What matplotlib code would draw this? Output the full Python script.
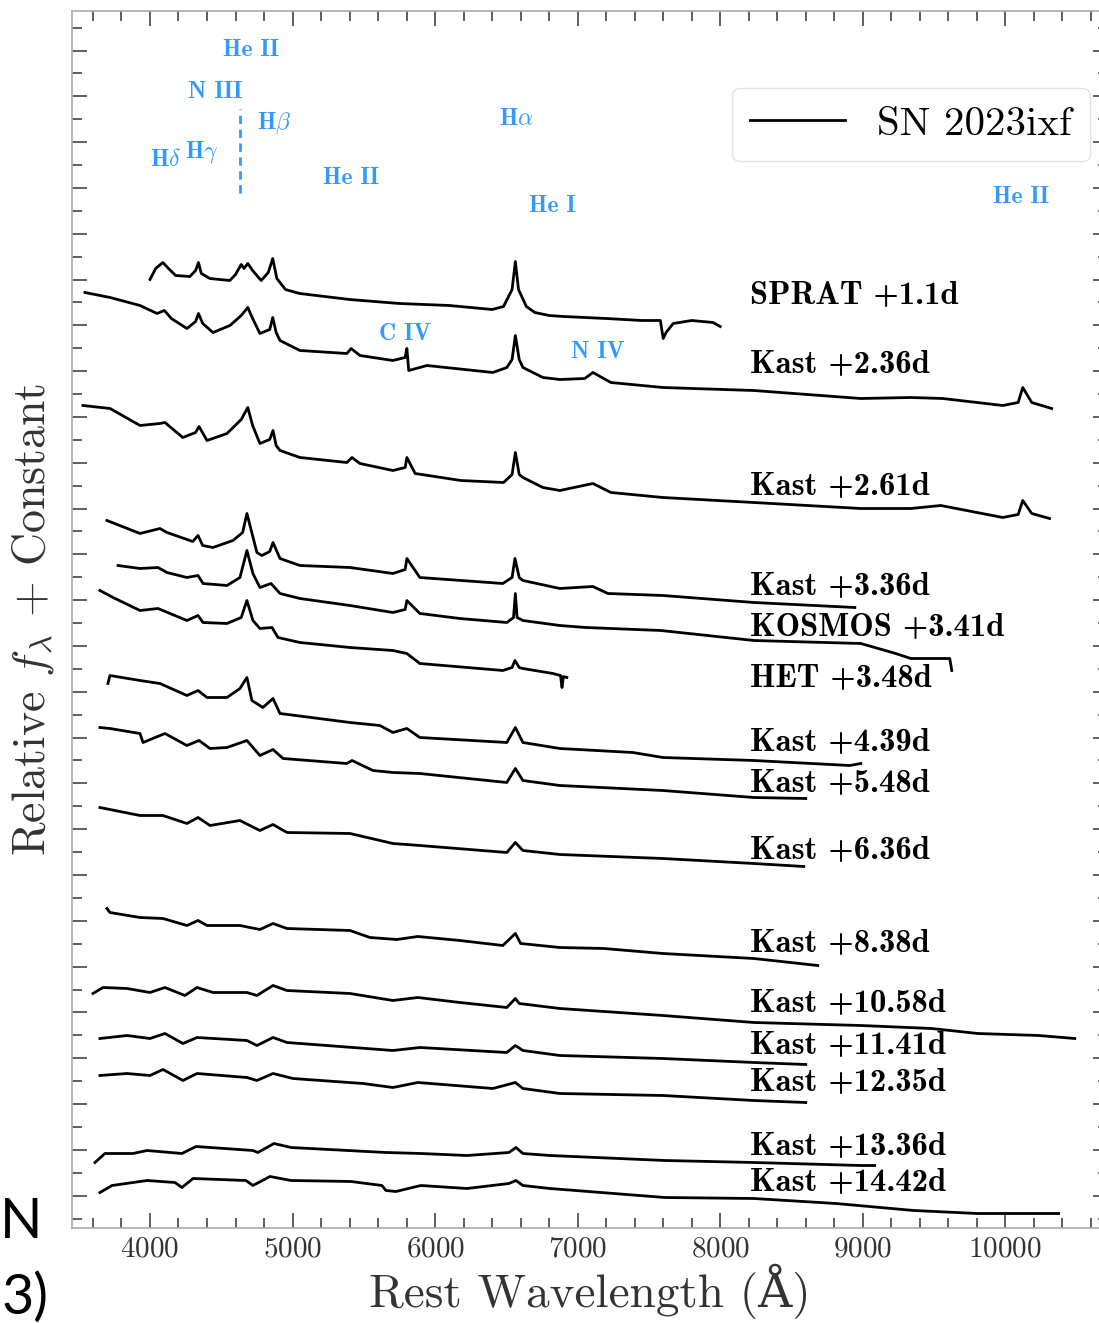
import numpy as np
import matplotlib
matplotlib.use("Agg")
from matplotlib import pyplot as plt

plt.rcParams['font.family'] = 'serif'
plt.rcParams['font.serif'] = ['cmr10']
plt.rcParams['mathtext.fontset'] = 'cm'
plt.rcParams['axes.formatter.use_mathtext'] = True

# spectra: rest wavelength (A) and relative flux + constant
wl_sprat = [4000, 4040, 4090, 4130, 4180, 4280, 4320, 4340, 4360, 4420, 4560, 4600, 4640, 4660, 4686,
            4720, 4780, 4830, 4861, 4890, 4950, 5050, 5400, 5750, 6100, 6400, 6480, 6540, 6563, 6585,
            6640, 6700, 6800, 6900, 7200, 7450, 7580, 7600, 7620, 7670, 7800, 7950, 8000]
fl_sprat = [9.48, 9.59, 9.65, 9.59, 9.52, 9.51, 9.57, 9.65, 9.54, 9.49, 9.47, 9.53, 9.63, 9.59, 9.64,
            9.57, 9.47, 9.55, 9.69, 9.49, 9.38, 9.34, 9.28, 9.24, 9.22, 9.18, 9.21, 9.38, 9.66, 9.38,
            9.21, 9.15, 9.12, 9.11, 9.09, 9.07, 9.07, 8.89, 8.95, 9.04, 9.07, 9.05, 9.01]

wl_k236 = [3544, 3720, 3930, 4050, 4101, 4150, 4259, 4320, 4340, 4370, 4442, 4561, 4640, 4686, 4720,
           4771, 4840, 4861, 4885, 4912, 5052, 5381, 5411, 5473, 5704, 5790, 5802, 5815, 5943, 6405,
           6503, 6540, 6563, 6590, 6616, 6756, 6875, 7050, 7107, 7233, 7598, 8236, 8986, 9337, 9561,
           9982, 10090, 10122, 10185, 10325]
fl_k236 = [9.35, 9.30, 9.22, 9.14, 9.17, 9.09, 8.99, 9.06, 9.14, 9.04, 8.95, 9.02, 9.12, 9.20, 9.09,
           8.94, 8.98, 9.10, 8.95, 8.87, 8.77, 8.74, 8.79, 8.72, 8.67, 8.70, 8.79, 8.57, 8.62, 8.55,
           8.60, 8.68, 8.92, 8.68, 8.60, 8.50, 8.48, 8.49, 8.55, 8.45, 8.40, 8.37, 8.29, 8.30, 8.29,
           8.22, 8.25, 8.40, 8.25, 8.19]

wl_k261 = [3530, 3720, 3930, 4070, 4105, 4230, 4320, 4344, 4400, 4540, 4640, 4686, 4720, 4771, 4840,
           4863, 4885, 4912, 5052, 5381, 5417, 5473, 5704, 5790, 5802, 5860, 6180, 6480, 6540, 6563,
           6590, 6616, 6756, 6875, 7107, 7233, 7598, 8236, 8986, 9337, 9547, 9982, 10090, 10122, 10185,
           10310]
fl_k261 = [8.22, 8.19, 8.02, 8.04, 8.05, 7.90, 7.95, 8.01, 7.87, 7.94, 8.08, 8.20, 8.02, 7.84, 7.88,
           7.97, 7.82, 7.77, 7.70, 7.65, 7.70, 7.64, 7.57, 7.60, 7.70, 7.54, 7.47, 7.45, 7.53, 7.75,
           7.53, 7.50, 7.40, 7.37, 7.44, 7.35, 7.30, 7.25, 7.19, 7.19, 7.22, 7.10, 7.13, 7.27, 7.14,
           7.09]

wl_k336 = [3698, 3930, 4070, 4119, 4300, 4337, 4370, 4442, 4582, 4650, 4680, 4750, 4785, 4840, 4863,
           4912, 5052, 5403, 5704, 5790, 5802, 5893, 6475, 6540, 6560, 6590, 6616, 6875, 7107, 7212,
           7598, 8236, 8944]
fl_k336 = [7.07, 6.94, 6.99, 6.95, 6.86, 6.92, 6.82, 6.80, 6.87, 6.95, 7.14, 6.75, 6.72, 6.76, 6.85,
           6.69, 6.62, 6.60, 6.54, 6.58, 6.69, 6.50, 6.44, 6.50, 6.69, 6.50, 6.47, 6.39, 6.41, 6.34,
           6.32, 6.25, 6.20]

wl_kos = [3776, 3930, 4056, 4119, 4259, 4337, 4372, 4540, 4631, 4680, 4722, 4771, 4849, 4912, 5052,
          5403, 5704, 5790, 5802, 5893, 6174, 6503, 6550, 6563, 6575, 6616, 6875, 7057, 7584, 8236,
          8986, 9231, 9337, 9610, 9624]
fl_kos = [6.62, 6.59, 6.60, 6.55, 6.50, 6.52, 6.44, 6.42, 6.50, 6.77, 6.54, 6.40, 6.44, 6.34, 6.29,
          6.22, 6.15, 6.18, 6.27, 6.14, 6.09, 6.05, 6.10, 6.34, 6.10, 6.07, 6.02, 6.00, 5.97, 5.87,
          5.84, 5.74, 5.69, 5.69, 5.57]

wl_het = [3649, 3741, 3930, 4056, 4259, 4337, 4372, 4540, 4640, 4680, 4722, 4771, 4856, 4898, 5052,
          5403, 5704, 5802, 5893, 6475, 6540, 6560, 6590, 6616, 6826, 6880, 6890, 6900, 6924]
fl_het = [6.37, 6.30, 6.17, 6.19, 6.07, 6.12, 6.05, 6.04, 6.10, 6.27, 6.07, 5.99, 6.00, 5.90, 5.85,
          5.80, 5.77, 5.74, 5.64, 5.57, 5.60, 5.67, 5.60, 5.59, 5.54, 5.52, 5.40, 5.51, 5.50]

wl_k439 = [3705, 3719, 3930, 4070, 4259, 4337, 4400, 4540, 4631, 4680, 4715, 4792, 4863, 4912, 5403,
           5613, 5704, 5802, 5893, 6503, 6563, 6616, 6875, 7387, 7598, 8236, 8909, 8986]
fl_k439 = [5.44, 5.52, 5.47, 5.44, 5.32, 5.37, 5.30, 5.30, 5.39, 5.50, 5.27, 5.20, 5.29, 5.14, 5.05,
           5.02, 4.95, 4.99, 4.90, 4.85, 5.00, 4.85, 4.79, 4.75, 4.70, 4.67, 4.62, 4.64]

wl_k548 = [3649, 3719, 3930, 3951, 4105, 4259, 4344, 4421, 4540, 4680, 4771, 4863, 4933, 5381, 5417,
           5564, 5704, 5893, 6503, 6563, 6616, 6875, 7598, 8236, 8600]
fl_k548 = [5.00, 4.99, 4.94, 4.85, 4.94, 4.82, 4.87, 4.79, 4.80, 4.87, 4.72, 4.78, 4.69, 4.64, 4.67,
           4.57, 4.55, 4.54, 4.45, 4.59, 4.47, 4.42, 4.37, 4.30, 4.29]

wl_k636 = [3649, 3930, 4091, 4259, 4337, 4421, 4631, 4771, 4863, 4961, 5403, 5704, 5893, 6503, 6563,
           6616, 6875, 7598, 8236, 8586]
fl_k636 = [4.20, 4.12, 4.12, 4.04, 4.10, 4.02, 4.07, 3.97, 4.03, 3.95, 3.94, 3.84, 3.82, 3.75, 3.85,
           3.77, 3.73, 3.69, 3.64, 3.61]

wl_k838 = [3698, 3719, 3930, 4091, 4259, 4337, 4400, 4631, 4771, 4863, 4961, 5403, 5543, 5732, 5879,
           6174, 6475, 6563, 6600, 6875, 7184, 7598, 8236, 8684]
fl_k838 = [3.19, 3.15, 3.10, 3.09, 3.02, 3.07, 3.02, 3.02, 2.98, 3.04, 2.99, 2.97, 2.90, 2.88, 2.91,
           2.87, 2.82, 2.94, 2.84, 2.80, 2.79, 2.74, 2.69, 2.62]

wl_k1058 = [3600, 3670, 3839, 4000, 4105, 4245, 4330, 4442, 4680, 4750, 4863, 4961, 5403, 5704, 5879,
            6174, 6503, 6563, 6590, 6875, 7598, 8236, 8986, 9484, 9806, 10234, 10487]
fl_k1058 = [2.34, 2.40, 2.39, 2.35, 2.40, 2.32, 2.40, 2.35, 2.35, 2.32, 2.42, 2.37, 2.34, 2.27, 2.30,
            2.25, 2.20, 2.29, 2.24, 2.19, 2.12, 2.05, 2.02, 1.99, 1.94, 1.92, 1.89]

wl_k1141 = [3649, 3839, 4000, 4105, 4231, 4330, 4680, 4750, 4863, 4961, 5704, 5893, 6503, 6563, 6616,
            6875, 7598, 8236, 8600]
fl_k1141 = [1.89, 1.92, 1.89, 1.94, 1.84, 1.90, 1.87, 1.82, 1.90, 1.85, 1.77, 1.80, 1.75, 1.82, 1.77,
            1.72, 1.69, 1.65, 1.63]

wl_k1235 = [3649, 3839, 4000, 4091, 4231, 4330, 4680, 4750, 4863, 5003, 5494, 5704, 5879, 6405, 6563,
            6616, 6875, 7598, 8236, 8600]
fl_k1235 = [1.52, 1.54, 1.52, 1.58, 1.47, 1.54, 1.50, 1.47, 1.54, 1.49, 1.44, 1.40, 1.45, 1.39, 1.45,
            1.39, 1.34, 1.32, 1.27, 1.25]

wl_k1336 = [3614, 3684, 3881, 3979, 4224, 4323, 4722, 4757, 4870, 4989, 5655, 5900, 6223, 6518, 6567,
            6616, 6805, 7612, 8236, 8986, 9084]
fl_k1336 = [0.65, 0.74, 0.74, 0.77, 0.74, 0.81, 0.77, 0.75, 0.84, 0.80, 0.75, 0.74, 0.72, 0.75, 0.80,
            0.74, 0.72, 0.67, 0.65, 0.62, 0.62]

wl_k1442 = [3649, 3734, 3881, 3979, 4175, 4224, 4302, 4673, 4722, 4842, 4989, 5410, 5627, 5655, 5725,
            5900, 6223, 6518, 6567, 6616, 6805, 7612, 8236, 8811, 9358, 9806, 10374]
fl_k1442 = [0.35, 0.42, 0.45, 0.47, 0.45, 0.40, 0.49, 0.47, 0.42, 0.51, 0.47, 0.46, 0.42, 0.37, 0.36,
            0.42, 0.39, 0.44, 0.47, 0.42, 0.39, 0.30, 0.29, 0.24, 0.17, 0.14, 0.14]

spec_labels = ['SPRAT +1.1d', 'Kast +2.36d', 'Kast +2.61d', 'Kast +3.36d', 'KOSMOS +3.41d',
               'HET +3.48d', 'Kast +4.39d', 'Kast +5.48d', 'Kast +6.36d', 'Kast +8.38d',
               'Kast +10.58d', 'Kast +11.41d', 'Kast +12.35d', 'Kast +13.36d', 'Kast +14.42d']
label_y = [9.32, 8.63, 7.41, 6.41, 6.00, 5.49, 4.85, 4.44, 3.77, 2.84, 2.24, 1.82, 1.45, 0.81, 0.45]

# line identifications: name, wavelength position, height
line_names = ['He II', 'N III', r'H$\beta$', r'H$\gamma$', r'H$\delta$', 'He II', r'H$\alpha$',
              'He I', 'He II', 'C IV', 'N IV']
line_x = [4708, 4456, 4870, 4365, 4112, 5410, 6567, 6826, 10108, 5788, 7142]
line_y = [11.77, 11.36, 11.04, 10.75, 10.67, 10.49, 11.08, 10.21, 10.30, 8.93, 8.75]

spectra = [(wl_sprat, fl_sprat), (wl_k236, fl_k236), (wl_k261, fl_k261), (wl_k336, fl_k336),
           (wl_kos, fl_kos), (wl_het, fl_het), (wl_k439, fl_k439), (wl_k548, fl_k548),
           (wl_k636, fl_k636), (wl_k838, fl_k838), (wl_k1058, fl_k1058), (wl_k1141, fl_k1141),
           (wl_k1235, fl_k1235), (wl_k1336, fl_k1336), (wl_k1442, fl_k1442)]

blue = '#3399ff'

fig = plt.figure(figsize=(10.99, 13.23), dpi=100)
ax = fig.add_axes([72/1099, 95.5/1323, 1036/1099, 1216.5/1323])

for i, (wl, fl) in enumerate(spectra):
    ax.plot(wl, fl, color='black', lw=2.0,
            label='SN 2023ixf' if i == 0 else None)

for lab, y in zip(spec_labels, label_y):
    ax.text(8208, y, lab, fontfamily='cmb10', fontsize=23.5, ha='left', va='center')

for name, x, y in zip(line_names, line_x, line_y):
    ax.text(x, y, name, fontfamily='cmb10', fontsize=17, color=blue, ha='center', va='center')

# N III marker
ax.plot([4631, 4631], [10.34, 11.19], color=blue, lw=2, ls=(0, (3, 2)))

ax.set_xlim(3453, 10720)
ax.set_ylim(0, 12.165)

ax.set_xticks(np.arange(4000, 10001, 1000))
ax.set_xticks(np.arange(3600, 10701, 200), minor=True)
ax.set_yticks(np.arange(0.319, 12.1, 0.458))
ax.set_yticks(np.arange(0.09, 12.1, 0.458), minor=True)
ax.set_yticklabels([])

ax.tick_params(which='both', direction='in', top=True, right=True, color='#444444', width=1.2)
ax.tick_params(which='major', length=11)
ax.tick_params(which='minor', length=7)
ax.tick_params(axis='x', labelsize=21, labelcolor='#333333', pad=6)
for sp in ax.spines.values():
    sp.set_color('#aaaaaa')
    sp.set_linewidth(1.2)

ax.set_xlabel('Rest Wavelength (Å)', fontsize=34, color='#333333', labelpad=1,
              fontfamily=['cmr10', 'DejaVu Serif'])
ax.set_ylabel(r'Relative $f_{\lambda}$ $+$ Constant', fontsize=33, color='#333333', labelpad=8)

leg = ax.legend(loc='upper right', bbox_to_anchor=(0.983, 0.937), borderaxespad=0, fontsize=29.5,
                handlelength=2.3, frameon=True, fancybox=True, borderpad=0.45)
leg.get_frame().set_edgecolor('#dddddd')

# text cut from the neighbouring page
fig.text(0, 1323 - 1222, 'N', fontsize=40, family='Lato', va='center', ha='left',
         transform=None)
fig.text(2, 1323 - 1298, '3)', fontsize=40, family='Lato', va='center', ha='left',
         transform=None)

fig.savefig('out.png', dpi=100)
